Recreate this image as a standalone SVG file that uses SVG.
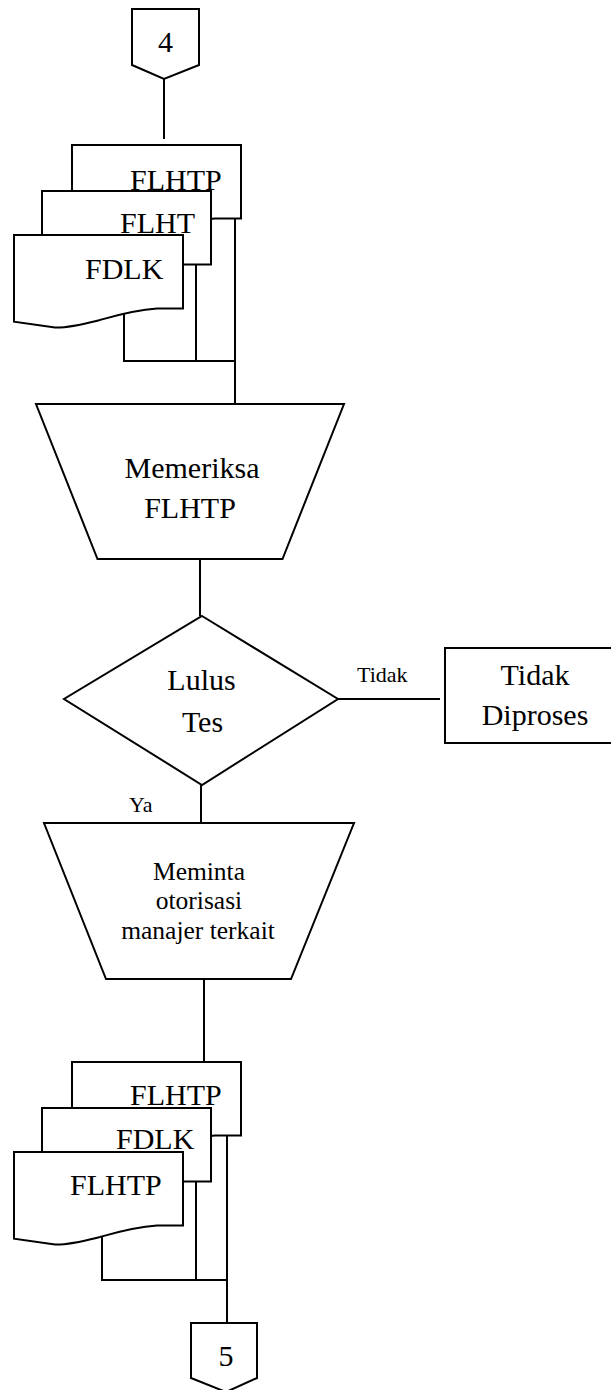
<svg xmlns="http://www.w3.org/2000/svg" width="611" height="1390" viewBox="0 0 611 1390">
  <style>
    .shape { fill: #fff; stroke: #000; stroke-width: 2; stroke-linejoin: miter; }
    .line { fill: none; stroke: #000; stroke-width: 2; }
    .t { font-family: "Liberation Serif", "DejaVu Serif", serif; fill: #000; }
    .big { font-size: 30px; }
    .mid { font-size: 25.5px; }
    .small { font-size: 22px; }
    .c { text-anchor: middle; }
  </style>
  <defs>
    <!-- flowchart document symbol, wavy bottom edge -->
    <path id="doc" d="M0,0 H169 V73.5 H143 C120,75 100,81 86,85 C70,89 55,93 41,92.5 L0,86.7 Z"/>
  </defs>

  <!-- connectors -->
  <g id="connectors">
    <path class="line" d="M164,79 V139"/>
    <path class="line" d="M124,314 V361 H235"/>
    <path class="line" d="M196,264 V361"/>
    <path class="line" d="M235,218 V404"/>
    <path class="line" d="M200,559 V616"/>
    <path class="line" d="M338,699 H440"/>
    <path class="line" d="M201,785 V823"/>
    <path class="line" d="M204,979 V1062"/>
    <path class="line" d="M102,1236 V1280 H227"/>
    <path class="line" d="M196,1181 V1280"/>
    <path class="line" d="M227,1135 V1323"/>
    <text class="t small" x="357" y="682">Tidak</text>
    <text class="t small" x="129" y="812">Ya</text>
  </g>

  <!-- off-page connector 4 -->
  <g id="conn4">
    <path class="shape" d="M132,9 H199 V65 L164,79 L132,65 Z"/>
    <text class="t big c" x="165.5" y="52">4</text>
  </g>

  <!-- input documents -->
  <g id="docs-in">
    <use href="#doc" class="shape" transform="translate(72,145)"/>
    <text class="t big" x="130" y="190">FLHTP</text>
    <use href="#doc" class="shape" transform="translate(42,191)"/>
    <text class="t big" x="120" y="233">FLHT</text>
    <use href="#doc" class="shape" transform="translate(14,235)"/>
    <text class="t big" x="85" y="279">FDLK</text>
  </g>

  <!-- manual operation: check -->
  <g id="memeriksa">
    <path class="shape" d="M36,404 H344 L282.5,559 H97.5 Z"/>
    <text class="t big c" x="192" y="478">Memeriksa</text>
    <text class="t big c" x="190" y="518">FLHTP</text>
  </g>

  <!-- decision -->
  <g id="lulus">
    <path class="shape" d="M202,616 L338,699 L202,785 L64,699 Z"/>
    <text class="t big c" x="201.5" y="690">Lulus</text>
    <text class="t big c" x="202.5" y="732">Tes</text>
  </g>

  <!-- rejected branch -->
  <g id="tidak-diproses">
    <rect class="shape" x="445" y="648" width="200" height="95"/>
    <text class="t big c" x="535" y="685">Tidak</text>
    <text class="t big c" x="535" y="725">Diproses</text>
  </g>

  <!-- manual operation: authorization -->
  <g id="meminta">
    <path class="shape" d="M44,823 H354 L291,979 H106 Z"/>
    <text class="t mid c" x="199" y="880">Meminta</text>
    <text class="t mid c" x="199" y="909">otorisasi</text>
    <text class="t mid c" x="198" y="939">manajer terkait</text>
  </g>

  <!-- output documents -->
  <g id="docs-out">
    <use href="#doc" class="shape" transform="translate(72,1062)"/>
    <text class="t big" x="130" y="1105">FLHTP</text>
    <use href="#doc" class="shape" transform="translate(42,1108)"/>
    <text class="t big" x="116" y="1149">FDLK</text>
    <use href="#doc" class="shape" transform="translate(14,1152)"/>
    <text class="t big" x="70" y="1195">FLHTP</text>
  </g>

  <!-- off-page connector 5 -->
  <g id="conn5">
    <path class="shape" d="M191,1323 H257 V1378 L226,1392 L191,1378 Z"/>
    <text class="t big c" x="226" y="1366">5</text>
  </g>
</svg>
